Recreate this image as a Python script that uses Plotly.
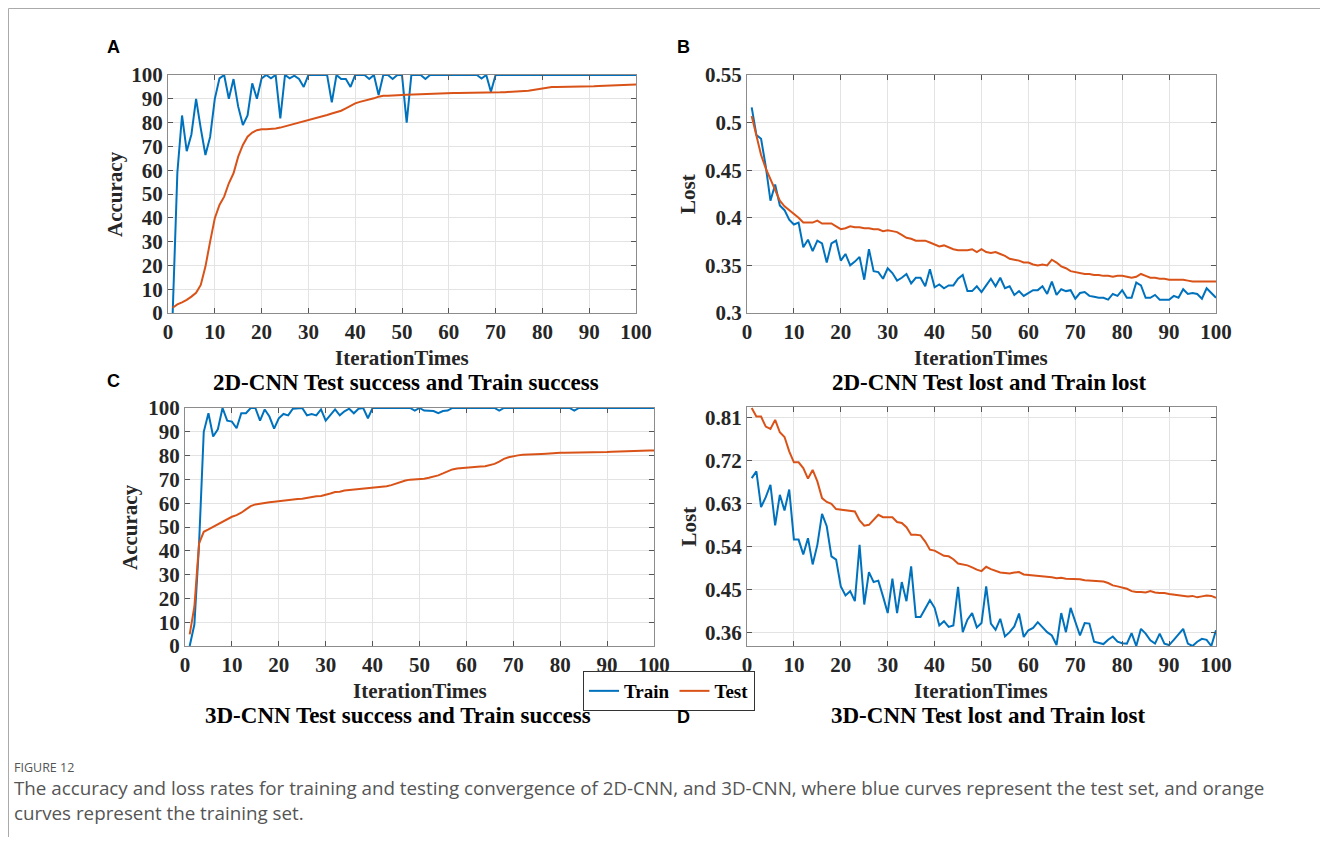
import plotly.graph_objects as go

iterations = list(range(1, 101))

a_train = [0, 59, 83, 68, 75, 90, 77.6, 66.4, 74, 90,
           98.6, 100, 90, 98.3, 86.7, 79, 83, 96.5, 90, 98.6,
           100, 98.6, 100, 81.8, 100, 98.6, 99.7, 98.3, 95, 100,
           100, 100, 100, 100, 88.5, 100, 98.3, 98.3, 95, 100,
           100, 100, 98.3, 100, 91.6, 100, 100, 98.3, 100, 100,
           80, 100, 100, 100, 98.3, 100, 100, 100, 100, 100,
           100, 100, 100, 100, 100, 100, 98.5, 100, 93, 100,
           100, 100, 100, 100, 100, 100, 100, 100, 100, 100,
           100, 100, 100, 100, 100, 100, 100, 100, 100, 100,
           100, 100, 100, 100, 100, 100, 100, 100, 100, 100]
a_test = [2.2, 3.6, 4.5, 5.5, 6.9, 8.5, 11.8, 19.5, 30, 39.8,
          45.4, 48.9, 54.5, 58.7, 65.7, 70.6, 74.1, 75.8, 76.8, 77.2,
          77.2, 77.2, 77.5, 77.9, 78.4, 79, 79.4, 80, 80.7, 81.2,
          81.5, 82.1, 82.5, 83.2, 83.8, 84.3, 85, 86, 87.1, 88.1,
          88.7, 89.1, 89.5, 90.2, 90.9, 91.3, 91.3, 91.5, 91.6, 91.6,
          91.7, 91.8, 91.9, 92.0, 92.0, 92.1, 92.1, 92.2, 92.3, 92.3,
          92.4, 92.4, 92.4, 92.4, 92.5, 92.5, 92.5, 92.6, 92.6, 92.6,
          92.7, 92.8, 92.9, 93.0, 93.0, 93.2, 93.4, 93.7, 94.1, 94.5,
          94.8, 95.0, 95.0, 95.0, 95.0, 95.0, 95.1, 95.1, 95.1, 95.2,
          95.3, 95.4, 95.5, 95.5, 95.6, 95.7, 95.8, 95.9, 96.0, 96.0]

b_train = [0.516, 0.487, 0.483, 0.454, 0.418, 0.435, 0.413, 0.408, 0.398, 0.393,
           0.395, 0.369, 0.377, 0.365, 0.376, 0.373, 0.353, 0.373, 0.376, 0.355,
           0.362, 0.350, 0.354, 0.359, 0.335, 0.367, 0.344, 0.343, 0.336, 0.347,
           0.342, 0.334, 0.337, 0.341, 0.331, 0.337, 0.337, 0.328, 0.346, 0.327,
           0.330, 0.326, 0.329, 0.329, 0.336, 0.340, 0.323, 0.323, 0.328, 0.322,
           0.329, 0.336, 0.328, 0.337, 0.326, 0.328, 0.319, 0.323, 0.318, 0.321,
           0.324, 0.324, 0.328, 0.320, 0.333, 0.319, 0.325, 0.323, 0.324, 0.315,
           0.321, 0.322, 0.318, 0.317, 0.316, 0.316, 0.314, 0.320, 0.318, 0.324,
           0.316, 0.316, 0.332, 0.329, 0.316, 0.316, 0.319, 0.314, 0.314, 0.314,
           0.318, 0.316, 0.325, 0.320, 0.321, 0.320, 0.315, 0.326, 0.321, 0.316]
b_test = [0.507, 0.487, 0.466, 0.452, 0.440, 0.428, 0.418, 0.412, 0.408, 0.403,
          0.400, 0.395, 0.395, 0.395, 0.397, 0.394, 0.394, 0.394, 0.391, 0.388,
          0.389, 0.391, 0.390, 0.390, 0.389, 0.389, 0.388, 0.388, 0.386, 0.387,
          0.386, 0.385, 0.382, 0.379, 0.378, 0.376, 0.376, 0.376, 0.374, 0.372,
          0.370, 0.371, 0.369, 0.367, 0.366, 0.366, 0.366, 0.367, 0.364, 0.367,
          0.364, 0.363, 0.364, 0.362, 0.360, 0.357, 0.356, 0.355, 0.353, 0.353,
          0.351, 0.350, 0.351, 0.350, 0.356, 0.353, 0.349, 0.347, 0.344, 0.343,
          0.342, 0.341, 0.341, 0.340, 0.340, 0.339, 0.339, 0.338, 0.339, 0.339,
          0.338, 0.337, 0.338, 0.341, 0.339, 0.337, 0.337, 0.336, 0.336, 0.335,
          0.335, 0.335, 0.335, 0.334, 0.333, 0.333, 0.333, 0.333, 0.333, 0.333]

c_train = [0, 9, 43, 90, 97.8, 88, 91, 100, 94.7, 94.3,
           91.5, 97.8, 97.8, 100, 100, 94.7, 99.4, 96.4, 91.3, 95.7,
           97.5, 96.9, 99.7, 100, 100, 96.9, 97.5, 96.9, 99.4, 94.7,
           97, 99.4, 96.9, 98.6, 99.7, 97.8, 99.7, 100, 95.7, 100,
           100, 100, 100, 100, 100, 100, 100, 100, 98.9, 100,
           98.9, 98.9, 98.7, 97.8, 98.7, 98.9, 100, 100, 100, 100,
           100, 100, 100, 100, 100, 100, 98.9, 100, 100, 100,
           100, 100, 100, 100, 100, 100, 100, 100, 100, 100,
           100, 100, 98.9, 100, 100, 100, 100, 100, 100, 100,
           100, 100, 100, 100, 100, 100, 100, 100, 100, 100]
c_test = [4.9, 16.5, 43.1, 48, 49, 50.1, 51.3, 52.2, 53.2, 54.3,
          55, 56, 57.4, 58.8, 59.5, 59.9, 60.2, 60.4, 60.6, 60.9,
          61.2, 61.5, 61.6, 61.8, 61.9, 62.3, 62.6, 62.9, 63, 63.4,
          64.1, 64.7, 64.8, 65.3, 65.5, 65.8, 66.1, 66.2, 66.4, 66.5,
          66.7, 66.8, 67.1, 67.6, 68.3, 68.9, 69.5, 69.9, 70, 70,
          70.3, 70.7, 71.1, 71.7, 72.5, 73.4, 74.2, 74.6, 74.8, 75.1,
          75.2, 75.4, 75.4, 75.5, 75.9, 76.5, 77.5, 78.6, 79.3, 79.8,
          80.1, 80.4, 80.4, 80.5, 80.7, 80.7, 80.8, 81, 81.1, 81.2,
          81.2, 81.2, 81.2, 81.2, 81.2, 81.3, 81.3, 81.4, 81.4, 81.5,
          81.6, 81.7, 81.7, 81.8, 81.9, 82, 82.1, 82.1, 82.1, 82.1]

d_train = [0.683, 0.697, 0.622, 0.643, 0.669, 0.584, 0.648, 0.615, 0.659, 0.554,
           0.554, 0.523, 0.557, 0.502, 0.543, 0.608, 0.582, 0.519, 0.512, 0.456,
           0.437, 0.446, 0.425, 0.543, 0.418, 0.486, 0.465, 0.468, 0.435, 0.400,
           0.472, 0.400, 0.465, 0.425, 0.498, 0.392, 0.392, 0.409, 0.427, 0.411,
           0.374, 0.383, 0.371, 0.374, 0.455, 0.360, 0.386, 0.400, 0.370, 0.379,
           0.456, 0.378, 0.365, 0.388, 0.351, 0.360, 0.372, 0.399, 0.350, 0.364,
           0.369, 0.381, 0.371, 0.360, 0.353, 0.333, 0.400, 0.360, 0.411, 0.381,
           0.353, 0.379, 0.378, 0.340, 0.337, 0.335, 0.344, 0.351, 0.340, 0.337,
           0.336, 0.358, 0.331, 0.367, 0.357, 0.343, 0.336, 0.357, 0.336, 0.333,
           0.344, 0.356, 0.367, 0.336, 0.331, 0.340, 0.346, 0.344, 0.331, 0.364]
d_test = [0.830, 0.812, 0.812, 0.791, 0.786, 0.805, 0.779, 0.769, 0.739, 0.716,
          0.716, 0.704, 0.682, 0.700, 0.676, 0.641, 0.633, 0.629, 0.618, 0.617,
          0.615, 0.615, 0.613, 0.594, 0.583, 0.585, 0.596, 0.606, 0.601, 0.601,
          0.601, 0.591, 0.589, 0.580, 0.564, 0.564, 0.563, 0.550, 0.533, 0.531,
          0.526, 0.520, 0.519, 0.513, 0.504, 0.502, 0.500, 0.496, 0.491, 0.488,
          0.497, 0.492, 0.489, 0.485, 0.484, 0.483, 0.485, 0.486, 0.481, 0.480,
          0.480, 0.478, 0.478, 0.476, 0.475, 0.473, 0.474, 0.472, 0.472, 0.472,
          0.471, 0.469, 0.468, 0.468, 0.467, 0.466, 0.463, 0.458, 0.456, 0.454,
          0.451, 0.446, 0.444, 0.444, 0.443, 0.446, 0.443, 0.442, 0.442, 0.440,
          0.439, 0.437, 0.436, 0.435, 0.436, 0.433, 0.435, 0.437, 0.436, 0.432]

x_ticks = [0, 10, 20, 30, 40, 50, 60, 70, 80, 90, 100]
acc_ticks = [0, 10, 20, 30, 40, 50, 60, 70, 80, 90, 100]
b_ticks = [0.3, 0.35, 0.4, 0.45, 0.5, 0.55]
b_tick_text = ["0.3", "0.35", "0.4", "0.45", "0.5", "0.55"]
d_ticks = [0.36, 0.45, 0.54, 0.63, 0.72, 0.81]
d_tick_text = ["0.36", "0.45", "0.54", "0.63", "0.72", "0.81"]

panel_titles = ["2D-CNN Test success and Train success", "2D-CNN Test lost and Train lost",
                "3D-CNN Test success and Train success", "3D-CNN Test lost and Train lost"]
y_titles = ["Accuracy", "Lost", "Accuracy", "Lost"]
x_title = "IterationTimes"
panel_letters = ["A", "B", "C", "D"]
caption_head = "FIGURE 12"
caption_lines = ["The accuracy and loss rates for training and testing convergence of 2D-CNN, and 3D-CNN, "
                 "where blue curves represent the test set, and orange",
                 "curves represent the training set."]

# The page body has an 8px margin; the figure is sized to fit inside it.
OFF = 8
W, H = 1328 - 2 * OFF, 845 - 2 * OFF
BLUE = "#0072BD"
ORANGE = "#D95319"
SERIF = "Liberation Serif, Times New Roman, serif"
SANS = "Open Sans, Noto Sans, sans-serif"


def px(x):
    return (x - OFF) / W


def py(y):
    return 1 - (y - OFF) / H


# panel boxes in reference pixels: (x_left, x_right, y_top, y_bottom)
boxes = [(168, 636, 75, 313), (747, 1216, 75, 313), (185, 654, 408, 646), (747, 1216, 407, 646)]
yranges = [[0, 100], [0.3, 0.55], [0, 100], [0.331, 0.832]]
series = [(a_train, a_test), (b_train, b_test), (c_train, c_test), (d_train, d_test)]

fig = go.Figure()
for i, (tr, te) in enumerate(series):
    suffix = "" if i == 0 else str(i + 1)
    fig.add_trace(go.Scatter(x=iterations, y=tr, mode="lines", name="Train",
                             line=dict(color=BLUE, width=2), showlegend=(i == 0),
                             xaxis="x" + suffix, yaxis="y" + suffix))
    fig.add_trace(go.Scatter(x=iterations, y=te, mode="lines", name="Test",
                             line=dict(color=ORANGE, width=2), showlegend=(i == 0),
                             xaxis="x" + suffix, yaxis="y" + suffix))

tick_font = dict(family=SERIF, size=21, color="#262626", weight="bold")
axis_common = dict(showline=True, linecolor="#8c8c8c", linewidth=1, mirror="ticks",
                   ticks="inside", ticklen=5, tickcolor="#555", showgrid=True,
                   gridcolor="#e3e3e3", gridwidth=1, zeroline=False, tickfont=tick_font,
                   automargin=False)

layout = dict(width=W, height=H, autosize=False, margin=dict(l=0, r=0, t=0, b=0, pad=0),
              paper_bgcolor="white", plot_bgcolor="white", template="none")
annotations = []


def ann(text, x, y, size, color, family=SERIF, xanchor="center", angle=0):
    return dict(text=text, x=px(x), y=py(y), xref="paper", yref="paper", showarrow=False,
                xanchor=xanchor, yanchor="middle", textangle=angle, align="left",
                font=dict(family=family, size=size, color=color))


for i, (xl, xr, yt, yb) in enumerate(boxes):
    suffix = "" if i == 0 else str(i + 1)
    xa = dict(axis_common, domain=[px(xl), px(xr)], range=[0, 100], tickvals=x_ticks,
              anchor="y" + suffix)
    ya = dict(axis_common, domain=[py(yb), py(yt)], range=yranges[i], anchor="x" + suffix)
    if i in (0, 2):
        ya.update(tickvals=acc_ticks)
    elif i == 1:
        ya.update(tickvals=b_ticks, ticktext=b_tick_text)
    else:
        ya.update(tickvals=d_ticks, ticktext=d_tick_text)
    layout["xaxis" + suffix] = xa
    layout["yaxis" + suffix] = ya
    cx = (xl + xr) / 2
    annotations.append(ann("<b>" + x_title + "</b>", cx, yb + 45, 21, "#262626"))
    sub_cx = [406, 989, 398, 988][i]
    annotations.append(ann("<b>" + panel_titles[i] + "</b>", sub_cx, yb + 69, 23, "#000"))
    ytx = [115, 688, 130, 688][i]
    annotations.append(ann("<b>" + y_titles[i] + "</b>", ytx, (yt + yb) / 2, 21, "#262626", angle=-90))

letter_pos = [(113, 47), (683, 47), (113, 381), (683, 717)]
for L, (lx, ly) in zip(panel_letters, letter_pos):
    annotations.append(ann("<b>" + L + "</b>", lx, ly, 18, "#000",
                           family="Liberation Sans, Arial, sans-serif"))

annotations.append(ann(caption_head, 12, 767, 12.5, "#555", family=SANS, xanchor="left"))
for k, line in enumerate(caption_lines):
    annotations.append(ann(line, 12, 788 + 25 * k, 18.8, "#555", family=SANS, xanchor="left"))

layout["annotations"] = annotations
layout["legend"] = dict(orientation="h", x=px(583), y=py(671), xanchor="left", yanchor="top",
                        bordercolor="#333", borderwidth=1, bgcolor="white",
                        font=dict(family=SERIF, size=19, color="#000", weight="bold"),
                        itemwidth=30, tracegroupgap=0)
layout["shapes"] = [dict(type="rect", xref="paper", yref="paper", x0=0.5 / W, x1=1.02,
                         y0=-0.02, y1=1 - 0.5 / H, line=dict(color="#aaa", width=1))]
layout["showlegend"] = True
fig.update_layout(**layout)

fig.write_html("out.html")
